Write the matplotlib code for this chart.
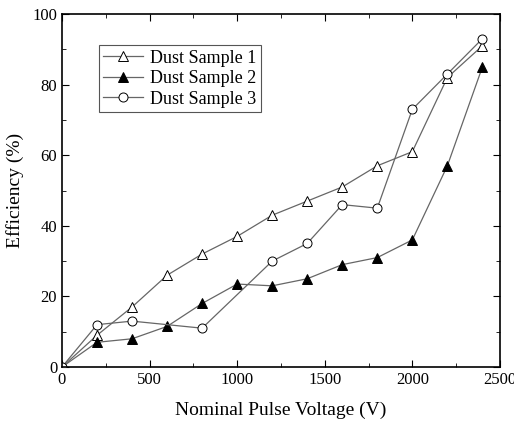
import matplotlib.pyplot as plt
from matplotlib.ticker import MultipleLocator

plt.rcParams["font.family"] = ["Liberation Serif", "DejaVu Serif"]

volts_1 = [0, 200, 400, 600, 800, 1000, 1200, 1400, 1600, 1800, 2000, 2200, 2400]
eff_1 = [0, 9, 17, 26, 32, 37, 43, 47, 51, 57, 61, 82, 91]
volts_2 = [0, 200, 400, 600, 800, 1000, 1200, 1400, 1600, 1800, 2000, 2200, 2400]
eff_2 = [0, 7, 8, 11.5, 18, 23.5, 23, 25, 29, 31, 36, 57, 85]
volts_3 = [0, 200, 400, 800, 1200, 1400, 1600, 1800, 2000, 2200, 2400]
eff_3 = [0, 12, 13, 11, 30, 35, 46, 45, 73, 83, 93]

fig = plt.figure(figsize=(5.14, 4.24), dpi=100)
ax = fig.add_axes([0.1206, 0.1344, 0.852, 0.8326])

line_kw = dict(color="#666666", linewidth=0.9, markersize=6.5,
               markeredgecolor="black", markeredgewidth=0.7)
ax.plot(volts_1, eff_1, "-^", markerfacecolor="white", label="Dust Sample 1", **line_kw)
ax.plot(volts_2, eff_2, "-^", markerfacecolor="black", label="Dust Sample 2", **line_kw)
ax.plot(volts_3, eff_3, "-o", markerfacecolor="white", label="Dust Sample 3", **line_kw)

ax.set_xlim(0, 2500)
ax.set_ylim(0, 100)
ax.xaxis.set_major_locator(MultipleLocator(500))
ax.xaxis.set_minor_locator(MultipleLocator(250))
ax.yaxis.set_major_locator(MultipleLocator(20))
ax.yaxis.set_minor_locator(MultipleLocator(10))
ax.tick_params(which="both", direction="in", top=True, right=True, labelsize=12)
ax.tick_params(which="major", length=5)
ax.tick_params(which="minor", length=3)
for s in ax.spines.values():
    s.set_linewidth(1.2)

ax.set_xlabel("Nominal Pulse Voltage (V)", fontsize=14, labelpad=10)
ax.set_ylabel("Efficiency (%)", fontsize=14, labelpad=6)

leg = ax.legend(loc="upper left", bbox_to_anchor=(0.084, 0.912), fontsize=13,
                fancybox=False, edgecolor="#555555", framealpha=1,
                borderaxespad=0, handlelength=2.2, borderpad=0.25,
                labelspacing=0.2, handletextpad=0.4)
leg.get_frame().set_linewidth(0.8)

fig.savefig("out.png", dpi=100)
